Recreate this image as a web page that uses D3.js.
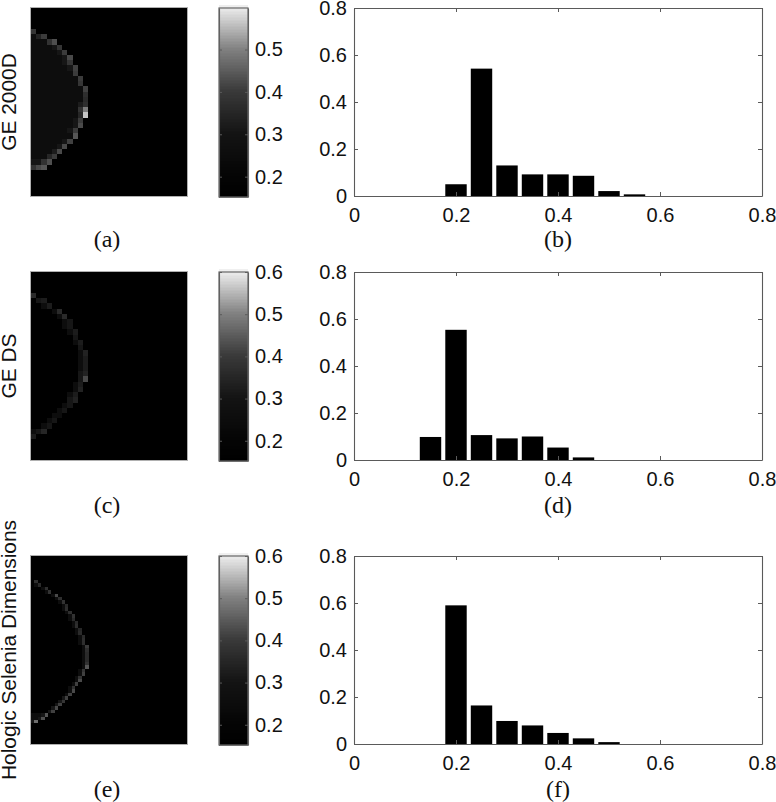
<!DOCTYPE html>
<html>
<head>
<meta charset="utf-8">
<script src="https://cdn.jsdelivr.net/npm/d3@7"></script>
<style>
  html, body { margin: 0; padding: 0; background: #fff; }
  svg { display: block; }
  text { font-family: "Liberation Sans", Arial, sans-serif; fill: #111; }
  .caption { font-family: "Liberation Serif", "Times New Roman", serif; font-size: 24px; }
</style>
</head>
<body>
<svg id="chart" width="776" height="802"></svg>
<script>
// panel titles and captions
var deviceNames = ["GE 2000D", "GE DS", "Hologic Selenia Dimensions"];
var mapCaptions = ["(a)", "(c)", "(e)"];
var histCaptions = ["(b)", "(d)", "(f)"];

// histogram bars, one list of centers and heights per row
var histCentersA = [0.20, 0.25, 0.30, 0.35, 0.40, 0.45, 0.50, 0.55];
var histValuesA = [0.05, 0.542, 0.13, 0.092, 0.092, 0.086, 0.021, 0.007];
var histCentersB = [0.15, 0.20, 0.25, 0.30, 0.35, 0.40, 0.45];
var histValuesB = [0.098, 0.554, 0.106, 0.092, 0.10, 0.053, 0.011];
var histCentersC = [0.20, 0.25, 0.30, 0.35, 0.40, 0.45, 0.50];
var histValuesC = [0.59, 0.164, 0.098, 0.079, 0.047, 0.024, 0.008];
var histTicks = [0, 0.2, 0.4, 0.6, 0.8];

// colorbar ranges and ticks
var barDomainA = [0.152, 0.598];
var barDomainB = [0.152, 0.60];
var barDomainC = [0.152, 0.60];
var barTicksA = [0.2, 0.3, 0.4, 0.5];
var barTicksB = [0.2, 0.3, 0.4, 0.5, 0.6];
var barTicksC = [0.2, 0.3, 0.4, 0.5, 0.6];

// the gray map is not linear, it stays dark for a long way
var grayStops = [0.15, 0.20, 0.30, 0.40, 0.50, 0.60];
var grayLevels = [0, 5, 20, 58, 130, 240];

// map (a): 30x36 cells, last lit column per row and the values along the rim
var gridA = [30, 36];
var firstRowA = 4;
var rimColsA = [0,2,4,5,6,7,7,8,8,9,9,10,10,10,10,10,10,9,9,8,8,7,6,5,4,3,2];
var rimValsA = [.39,.40,.43,.39,.40,.42,.39,.41,.40,.40,.39,.41,.37,.36,.37,.49,.56,.40,.42,.40,.44,.41,.42,.42,.40,.43,.44];
var innerValsA = [.22,.34,.38,.31,.30,.30,.29,.29,.28,.28,.24,.28,.24,.23,.33,.38,.35,.29,.29,.29,.28,.31,.31,.33,.35,.38,.42];
var fillValsA = [.20,.23,.25,.25,.24,.24,.23,.23,.23,.23,.22,.22,.22,.22,.23,.23,.23,.23,.23,.24,.24,.24,.24,.25,.27,.30,.38];

// map (c): same grid, much dimmer
var gridC = [30, 36];
var firstRowC = 4;
var rimColsC = [0,2,3,5,6,7,7,8,8,9,9,10,10,10,10,10,10,9,9,8,8,7,6,5,4,3,2,0];
var rimValsC = [.36,.33,.32,.36,.36,.30,.30,.33,.30,.32,.31,.34,.33,.33,.33,.34,.42,.33,.34,.32,.34,.30,.29,.28,.29,.30,.35,.33];
var innerValsC = [.18,.29,.25,.27,.26,.23,.22,.22,.21,.22,.21,.22,.22,.22,.25,.29,.29,.24,.23,.26,.29,.25,.23,.22,.23,.25,.31,.18];
var fillValsC = [.16,.20,.20,.20,.19,.18,.18,.18,.18,.18,.17,.17,.17,.17,.17,.17,.18,.18,.18,.18,.18,.18,.18,.18,.19,.21,.28,.16];

// map (e): finer 46x55 grid
var gridE = [46, 55];
var firstRowE = 7;
var rimColsE = [1,2,4,5,7,8,9,10,10,11,12,12,13,13,14,14,15,15,15,16,16,16,16,16,16,16,15,15,14,14,13,12,12,11,10,9,8,7,6,4,3,1];
var rimValsE = [.37,.36,.37,.38,.42,.37,.38,.36,.37,.37,.38,.36,.36,.37,.35,.36,.36,.37,.37,.40,.37,.36,.36,.36,.38,.44,.39,.41,.38,.42,.41,.38,.42,.41,.41,.39,.41,.42,.41,.44,.43,.47];
var innerValsE = [.21,.25,.26,.27,.28,.27,.27,.27,.27,.27,.27,.27,.26,.26,.26,.26,.26,.26,.26,.26,.25,.25,.25,.26,.26,.28,.28,.27,.28,.28,.28,.28,.28,.28,.29,.29,.29,.30,.31,.31,.31,.30];
var fillValsE = [.17,.18,.19,.19,.19,.19,.19,.19,.19,.19,.18,.18,.18,.18,.18,.18,.18,.18,.18,.18,.18,.18,.18,.18,.18,.18,.18,.18,.19,.19,.19,.19,.19,.19,.19,.20,.20,.21,.21,.22,.22,.23];

var rows = [
  { top: 8, bottom: 196, grid: gridA, firstRow: firstRowA, rimCols: rimColsA, rimVals: rimValsA, innerVals: innerValsA, fillVals: fillValsA,
    barDomain: barDomainA, barTicks: barTicksA, centers: histCentersA, values: histValuesA, capY: 247, labelY: 102 },
  { top: 272, bottom: 460, grid: gridC, firstRow: firstRowC, rimCols: rimColsC, rimVals: rimValsC, innerVals: innerValsC, fillVals: fillValsC,
    barDomain: barDomainB, barTicks: barTicksB, centers: histCentersB, values: histValuesB, capY: 513, labelY: 366 },
  { top: 556, bottom: 744, grid: gridE, firstRow: firstRowE, rimCols: rimColsE, rimVals: rimValsE, innerVals: innerValsE, fillVals: fillValsE,
    barDomain: barDomainC, barTicks: barTicksC, centers: histCentersC, values: histValuesC, capY: 797, labelY: 650 }
];

var mapLeft = 31, mapRight = 187;
var barLeft = 219, barRight = 248;
var histLeft = 354, histRight = 762;
var histBarWidth = 0.042;
var axisColor = "#5a5a5a";

var svg = d3.select("#chart");
var defs = svg.append("defs");
defs.append("filter").attr("id", "soft")
    .attr("x", "-2%").attr("y", "-2%").attr("width", "104%").attr("height", "104%")
  .append("feGaussianBlur").attr("stdDeviation", 0.6);

var gray = d3.scaleLinear().domain(grayStops).range(grayLevels).clamp(true);
function grayColor(v) {
  var g = Math.round(gray(v));
  return "rgb(" + g + "," + g + "," + g + ")";
}

rows.forEach(function(r, i) {
  drawMap(r, i);
  drawColorbar(r);
  drawHist(r, i);

  svg.append("text")
      .attr("transform", "translate(16," + r.labelY + ") rotate(-90)")
      .attr("text-anchor", "middle")
      .style("font-size", "20.9px")
      .text(deviceNames[i]);
});

function drawMap(r, i) {
  var x = d3.scaleLinear().domain([0, r.grid[0]]).range([mapLeft, mapRight]);
  var y = d3.scaleLinear().domain([0, r.grid[1]]).range([r.top, r.bottom]);

  // flatten the per row rim lists into cells
  var cells = [];
  r.rimCols.forEach(function(c, k) {
    for (var col = 0; col <= c; col++) {
      var v = r.fillVals[k];
      if (col == c) v = r.rimVals[k];
      else if (col == c - 1) v = r.innerVals[k];
      cells.push({ row: r.firstRow + k, col: col, v: v });
    }
  });

  var clipId = "mapclip" + i;
  defs.append("clipPath").attr("id", clipId)
    .append("rect")
      .attr("x", mapLeft).attr("y", r.top)
      .attr("width", mapRight - mapLeft).attr("height", r.bottom - r.top);

  svg.append("rect")
      .attr("x", mapLeft).attr("y", r.top)
      .attr("width", mapRight - mapLeft).attr("height", r.bottom - r.top)
      .attr("fill", "#000");

  svg.append("g").attr("clip-path", "url(#" + clipId + ")")
    .append("g").attr("filter", "url(#soft)")
    .selectAll("rect")
    .data(cells)
    .enter().append("rect")
      .attr("shape-rendering", "crispEdges")
      .attr("x", function(d) { return x(d.col); })
      .attr("y", function(d) { return y(d.row); })
      .attr("width", x(1) - x(0))
      .attr("height", y(1) - y(0))
      .attr("fill", function(d) { return grayColor(d.v); });

  svg.append("rect")
      .attr("x", mapLeft - 0.5).attr("y", r.top - 0.5)
      .attr("width", mapRight - mapLeft + 1).attr("height", r.bottom - r.top + 1)
      .attr("fill", "none")
      .attr("stroke", "#b0b0b0");
}

function drawColorbar(r) {
  var y = d3.scaleLinear().domain(r.barDomain).range([r.bottom + 1, r.top]);
  var levels = d3.range(64).map(function(k) {
    return r.barDomain[0] + (r.barDomain[1] - r.barDomain[0]) * k / 63;
  });
  var step = (r.barDomain[1] - r.barDomain[0]) / 63;

  svg.append("g").selectAll("rect")
    .data(levels)
    .enter().append("rect")
      .attr("x", barLeft)
      .attr("width", barRight - barLeft)
      .attr("y", function(d) { return y(d + step); })
      .attr("height", function(d) { return y(d) - y(d + step) + 0.5; })
      .attr("fill", grayColor);

  var right = svg.append("g")
      .attr("transform", "translate(" + barRight + ",0)")
      .call(d3.axisRight(y).tickValues(r.barTicks).tickSizeInner(-3).tickSizeOuter(0).tickPadding(7).tickFormat(d3.format(".1f")));
  var left = svg.append("g")
      .attr("transform", "translate(" + barLeft + ",0)")
      .call(d3.axisLeft(y).tickValues(r.barTicks).tickSizeInner(-3).tickSizeOuter(0).tickFormat(""));
  styleAxis(right);
  styleAxis(left);
  svg.append("rect")
      .attr("x", barLeft).attr("y", r.top)
      .attr("width", barRight - barLeft).attr("height", r.bottom + 1 - r.top)
      .attr("fill", "none").attr("stroke", "#666").attr("stroke-width", 1.2);
}

function drawHist(r, i) {
  var x = d3.scaleLinear().domain([0, 0.8]).range([histLeft, histRight]);
  var y = d3.scaleLinear().domain([0, 0.8]).range([r.bottom, r.top]);

  svg.append("g").selectAll("rect")
    .data(r.values)
    .enter().append("rect")
      .attr("x", function(d, k) { return x(r.centers[k] - histBarWidth / 2); })
      .attr("width", x(histBarWidth) - x(0))
      .attr("y", function(d) { return y(d); })
      .attr("height", function(d) { return y(0) - y(d); })
      .attr("fill", "#000");

  function fmt(d) { return d == 0 ? "0" : d3.format(".1f")(d); }
  var bottom = svg.append("g")
      .attr("transform", "translate(0," + r.bottom + ")")
      .call(d3.axisBottom(x).tickValues(histTicks).tickSizeInner(-4).tickSizeOuter(0).tickPadding(11.5).tickFormat(fmt));
  var left = svg.append("g")
      .attr("transform", "translate(" + histLeft + ",0)")
      .call(d3.axisLeft(y).tickValues(histTicks).tickSizeInner(-4).tickSizeOuter(0).tickPadding(7).tickFormat(fmt));
  var top = svg.append("g")
      .attr("transform", "translate(0," + r.top + ")")
      .call(d3.axisTop(x).tickValues(histTicks).tickSizeInner(-4).tickSizeOuter(0).tickFormat(""));
  var right = svg.append("g")
      .attr("transform", "translate(" + histRight + ",0)")
      .call(d3.axisRight(y).tickValues(histTicks).tickSizeInner(-4).tickSizeOuter(0).tickFormat(""));
  [bottom, left, top, right].forEach(styleAxis);

  svg.append("text").attr("class", "caption")
      .attr("x", (mapLeft + mapRight) / 2 - 2).attr("y", r.capY)
      .attr("text-anchor", "middle").text(mapCaptions[i]);
  svg.append("text").attr("class", "caption")
      .attr("x", x(0.4)).attr("y", r.capY)
      .attr("text-anchor", "middle").text(histCaptions[i]);
}

function styleAxis(g) {
  g.selectAll("path").attr("stroke", axisColor).attr("stroke-width", 1.1);
  g.selectAll("line").attr("stroke", axisColor).attr("stroke-width", 1);
  g.selectAll("text").style("font-size", "20px").style("font-family", "'Liberation Sans', Arial, sans-serif").attr("fill", "#111");
}
</script>
</body>
</html>
